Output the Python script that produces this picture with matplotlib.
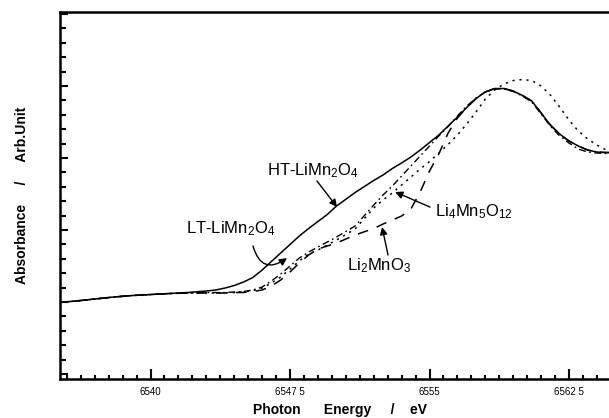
import matplotlib
matplotlib.use("Agg")
import matplotlib.pyplot as plt
from matplotlib.ticker import MultipleLocator, FixedLocator, FixedFormatter

plt.rcParams['font.family'] = ['Liberation Sans', 'DejaVu Sans']
plt.rcParams['mathtext.fontset'] = 'custom'
plt.rcParams['mathtext.rm'] = 'Liberation Sans'
plt.rcParams['mathtext.it'] = 'Liberation Sans'
plt.rcParams['mathtext.bf'] = 'Liberation Sans:bold'

# ---------------- data ----------------
energy = [6535, 6536, 6537, 6538, 6539, 6540, 6541, 6542, 6543, 6543.5,
          6544, 6544.5, 6545, 6545.5, 6546, 6546.5, 6547, 6547.5, 6548, 6548.5,
          6549, 6549.5, 6550, 6551, 6552, 6552.5, 6553, 6553.5, 6554, 6554.5,
          6555, 6555.5, 6556, 6556.5, 6557, 6557.5, 6558, 6558.5, 6559, 6559.5,
          6560, 6560.5, 6561, 6561.5, 6562, 6562.5, 6563, 6563.5, 6564, 6564.5,
          6565]

ht_limn2o4 = [0.993, 1.014, 1.042, 1.069, 1.090, 1.104, 1.118, 1.132, 1.153, 1.167,
              1.194, 1.229, 1.278, 1.340, 1.444, 1.563, 1.681, 1.799, 1.917, 2.021,
              2.118, 2.215, 2.333, 2.521, 2.688, 2.764, 2.854, 2.931, 3.014, 3.111,
              3.215, 3.319, 3.444, 3.569, 3.701, 3.826, 3.917, 3.965, 3.965, 3.931,
              3.868, 3.792, 3.625, 3.458, 3.333, 3.236, 3.167, 3.111, 3.083, 3.076,
              3.076]

lt_limn2o4 = [0.993, 1.014, 1.042, 1.069, 1.090, 1.104, 1.118, 1.125, 1.132, 1.132,
              1.132, 1.139, 1.146, 1.167, 1.208, 1.292, 1.389, 1.500, 1.611, 1.694,
              1.764, 1.833, 1.903, 2.056, 2.347, 2.486, 2.611, 2.750, 2.889, 3.028,
              3.167, 3.306, 3.438, 3.583, 3.722, 3.833, 3.917, 3.958, 3.958, 3.924,
              3.861, 3.778, 3.611, 3.444, 3.306, 3.208, 3.125, 3.083, 3.069, 3.063,
              3.063]

li4mn5o12 = [0.993, 1.014, 1.042, 1.069, 1.090, 1.104, 1.118, 1.125, 1.125, 1.125,
             1.125, 1.132, 1.139, 1.160, 1.194, 1.264, 1.347, 1.458, 1.569, 1.667,
             1.722, 1.792, 1.861, 2.014, 2.306, 2.417, 2.514, 2.625, 2.736, 2.847,
             2.951, 3.069, 3.188, 3.319, 3.472, 3.639, 3.819, 3.944, 4.028, 4.076,
             4.090, 4.076, 4.000, 3.875, 3.708, 3.528, 3.375, 3.264, 3.181, 3.111,
             3.083]

li2mno3 = [0.993, 1.014, 1.042, 1.069, 1.090, 1.104, 1.118, 1.125, 1.125, 1.125,
           1.125, 1.132, 1.132, 1.146, 1.167, 1.222, 1.306, 1.417, 1.542, 1.653,
           1.736, 1.778, 1.819, 1.931, 2.021, 2.083, 2.139, 2.194, 2.292, 2.528,
           2.819, 3.056, 3.347, 3.556, 3.701, 3.826, 3.917, 3.965, 3.965, 3.931,
           3.868, 3.792, 3.625, 3.458, 3.333, 3.236, 3.167, 3.111, 3.083, 3.076,
           3.076]

xtick_values = [6540, 6547.5, 6555, 6562.5]
xtick_labels = ["6540", "6547 5", "6555", "6562 5"]

# ---------------- figure ----------------
fig = plt.figure(figsize=(6.09, 4.18), dpi=100)
ax = fig.add_axes([60 / 609, 39 / 418, 560 / 609, 367 / 418])

ax.plot(energy, ht_limn2o4, color='black', lw=1.1, ls='-')
ax.plot(energy, lt_limn2o4, color='black', lw=1.0, ls=(0, (5, 2.5, 1.2, 2.5)))
ax.plot(energy, li4mn5o12, color='black', lw=1.1, ls=(0, (1.4, 3.2)))
ax.plot(energy, li2mno3, color='black', lw=1.1, ls=(0, (7, 6)))

ax.set_xlim(6535.134, 6565.242)
ax.set_ylim(-0.069, 5.028)

for s in ax.spines.values():
    s.set_linewidth(1.8)

ax.xaxis.set_major_locator(FixedLocator(xtick_values))
ax.xaxis.set_major_formatter(FixedFormatter(xtick_labels))
ax.xaxis.set_minor_locator(MultipleLocator(0.75))
ax.yaxis.set_major_locator(MultipleLocator(1))
ax.yaxis.set_minor_locator(MultipleLocator(0.2))
ax.tick_params(axis='both', which='both', direction='in', color='black')
ax.tick_params(axis='x', which='major', length=7, width=1.5, labelsize=7, pad=6)
ax.tick_params(axis='x', which='minor', length=3, width=1.5)
ax.tick_params(axis='y', which='major', length=6, width=1.5, labelleft=False)
ax.tick_params(axis='y', which='minor', length=4, width=1.5)
ax.tick_params(top=False, right=False)

ax.set_xlabel("Photon      Energy     /    eV", fontsize=10, fontweight='bold', labelpad=4)
ax.set_ylabel("Absorbance     /     Arb.Unit", fontsize=10, fontweight='bold', labelpad=19)

# ---------------- labels and arrows ----------------
lab_kw = dict(fontsize=12, va='baseline', ha='left', color='black')
arr_kw = dict(arrowstyle='-|>', color='black', lw=1.0, mutation_scale=11,
              shrinkA=0, shrinkB=0)

ax.text(6546.26, 2.764, r"HT-LiMn$_{2}$O$_{4}$", **lab_kw)
ax.annotate('', xy=(6550.03, 2.319), xytext=(6548.95, 2.681), arrowprops=arr_kw)

ax.text(6541.91, 1.958, r"LT-LiMn$_{2}$O$_{4}$", **lab_kw)
ax.annotate('', xy=(6547.34, 1.611), xytext=(6545.51, 1.778),
            arrowprops=dict(arr_kw, connectionstyle='arc3,rad=0.7'))

ax.text(6555.30, 2.194, r"Li$_{4}$Mn$_{5}$O$_{12}$", **lab_kw)
ax.annotate('', xy=(6553.15, 2.528), xytext=(6555.03, 2.319), arrowprops=arr_kw)

ax.text(6550.56, 1.444, r"Li$_{2}$MnO$_{3}$", **lab_kw)
ax.annotate('', xy=(6552.45, 2.042), xytext=(6552.77, 1.653), arrowprops=arr_kw)

fig.savefig("out.png", dpi=100)
